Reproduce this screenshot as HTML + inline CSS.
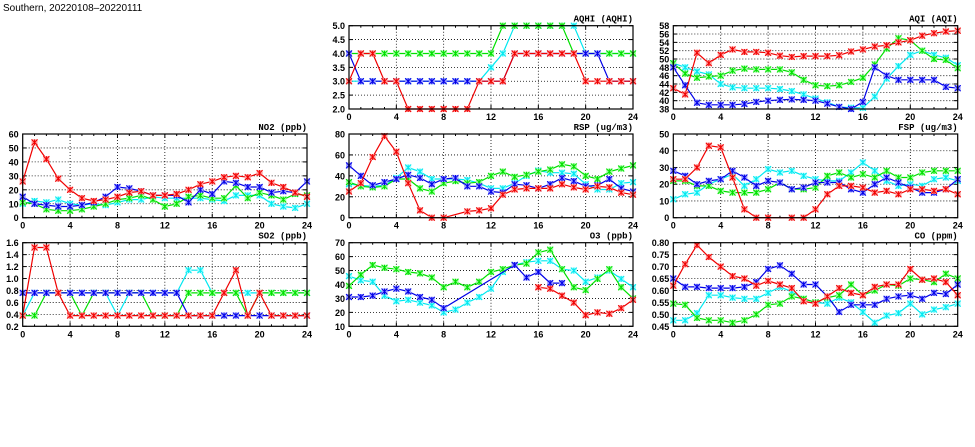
<!DOCTYPE html>
<html><head><meta charset="utf-8">
<style>
body{margin:0;background:#fff;}
svg{display:block;font-family:"Liberation Sans",sans-serif;}
</style></head><body>
<svg id="s" width="975" height="447" xmlns="http://www.w3.org/2000/svg"></svg>
<script>
const N=null;
const panels=[
{t:"AQHI (AQHI)",x0:349,x1:633,y0:25.7,y1:109,min:2,max:5,step:0.5,dec:1,
 s:{c:[3,3,3,3,3,3,3,3,3,3,3,3,3.5,4,5,5,5,5,5,5,4,4,4,4,4],
    g:[4,4,4,4,4,4,4,4,4,4,4,4,4,5,5,5,5,5,5,4,4,4,4,4,4],
    b:[4,3,3,3,3,3,3,3,3,3,3,3,3,3,4,4,4,4,4,4,4,4,3,3,3],
    r:[3,4,4,3,3,2,2,2,2,2,2,3,3,3,4,4,4,4,4,4,3,3,3,3,3]}},
{t:"AQI (AQI)",x0:673.3,x1:957.7,y0:25.7,y1:109,min:38,max:58,step:2,dec:0,
 s:{c:[49,48,47,46.3,44,43.2,43,43,43,42.8,42.3,41.5,40.5,39.6,38.5,38.3,38.3,41,45.3,48.3,51,52,51,50.3,48.5],
    g:[49,46.5,45.5,45.8,46,47.2,47.7,47.5,47.5,47.5,46.8,45,43.7,43.5,43.7,44.5,45.5,48.7,52.5,55,54.5,52,50,49.8,47.8],
    b:[48,43.7,39.5,39,39,39,39.2,39.7,40,40.2,40.3,40.2,40,39.3,38.5,38,39.7,48,46,45,45,45,45,43.3,43],
    r:[43,41.5,51.5,49,51,52.3,51.7,51.7,51.5,50.8,50.5,50.7,50.7,50.7,50.9,51.8,52.3,53,53.3,54,54.5,55.6,56.2,56.6,56.8]}},
{t:"NO2 (ppb)",x0:22.7,x1:307,y0:134,y1:217.7,min:0,max:60,step:10,dec:0,
 s:{c:[10,12,11,13,10,9,10,9,11,13,13,15,14,14,14,14,13,12,16,16,16,10,8,7,10],
    g:[11,10,6,5,5,6,8,10,13,14,16,13,8,10,15,16,14,14,23,14,18,16,13,17,16],
    b:[15,10,9,8,8,9,11,15,22,21,19,16,16,16,11,20,17,26,25,22,22,18,19,18,26],
    r:[26,54,42,28,20,14,12,13,15,18,19,16,16,17,20,24,26,29,30,29,32,25,22,18,15]}},
{t:"RSP (ug/m3)",x0:349,x1:633,y0:134,y1:217.7,min:0,max:80,step:20,dec:0,
 s:{c:[32,31,30,31,38,48,44,37,37,37,36,33,28,28,33,40,45,43,43,42,32,27,27,33,34],
    g:[34,30,29,30,37,37,28,25,33,35,33,34,40,44,39,41,44,46,51,49,40,37,44,47,50],
    b:[50,40,31,34,37,41,38,32,37,38,30,30,25,24,32,31,28,32,38,35,30,31,37,28,25],
    r:[25,33,58,78,63,33,7,0,0,N,6,7,9,22,27,28,28,28,32,29,27,30,29,24,22]},bridgeR:true},
{t:"FSP (ug/m3)",x0:673.3,x1:957.7,y0:134,y1:217.7,min:0,max:50,step:10,dec:0,
 s:{c:[11,14,15,20,23,26,19,23,29,27,28,25,23,22,22,27,33,28,22,19,20,19,23,24,22],
    g:[22,22,19,19,16,15,15,15,17,21,17,17,18,25,27,24,26,24,28,24,24,27,28,28,28],
    b:[28,25,20,22,23,28,24,19,22,21,17,18,21,21,21,17,15,20,24,21,18,15,15,17,23],
    r:[23,23,30,43,42,24,5,0,0,N,0,0,5,14,19,19,18,15,16,14,17,17,16,17,14]},bridgeR:true},
{t:"SO2 (ppb)",x0:22.7,x1:307,y0:242.7,y1:326.3,min:0.2,max:1.6,step:0.2,dec:1,
 s:{c:[.38,.76,.76,.76,.76,.76,.76,.76,.38,.76,.76,.76,.76,.76,1.14,1.14,.76,.76,.76,.76,.76,.76,.76,.76,.76],
    g:[.38,.38,.76,.76,.76,.38,.76,.76,.76,.76,.76,.38,.38,.38,.76,.76,.76,.76,.76,.38,.76,.76,.76,.76,.76],
    b:[.76,.76,.76,.76,.76,.76,.76,.76,.76,.76,.76,.76,.76,.76,.38,.38,.38,.38,.38,.38,.38,.38,.38,.38,.38],
    r:[.38,1.52,1.52,.76,.38,.38,.38,.38,.38,.38,.38,.38,.38,.38,.38,.38,.38,.76,1.14,.38,.76,.38,.38,.38,.38]}},
{t:"O3 (ppb)",x0:349,x1:633,y0:242.7,y1:326.3,min:10,max:70,step:10,dec:0,
 s:{c:[46,43,42,32,28,29,27,25,20,22,27,31,37,49,54,56,57,57,51,50,42,45,50,44,38],
    g:[39,47,54,52,51,49,48,45,38,42,38,42,49,51,54,55,63,65,51,38,36,44,51,38,30],
    b:[31,31,32,35,37,35,31,29,23,N,N,N,N,N,54,45,49,41,41,N,N,N,N,N,N],
    r:[N,N,N,N,N,N,N,N,N,N,N,N,N,N,N,N,38,37,32,27,18,20,19,23,29]},bridge:true},
{t:"CO (ppm)",x0:673.3,x1:957.7,y0:242.7,y1:326.3,min:0.45,max:0.80,step:0.05,dec:2,
 s:{c:[.475,.475,.505,.58,.58,.57,.565,.565,.59,.615,.595,.565,.55,.545,.57,.55,.51,.465,.495,.505,.545,.50,.52,.53,.545],
    g:[.545,.54,.485,.475,.475,.465,.475,.50,.54,.545,.575,.565,.55,.57,.58,.625,.58,.60,.625,.62,.65,.645,.635,.67,.65],
    b:[.65,.615,.615,.61,.61,.61,.615,.635,.69,.705,.67,.625,.625,.575,.51,.54,.54,.54,.565,.575,.58,.565,.59,.585,.625],
    r:[.62,.71,.79,.74,.70,.66,.65,.62,.64,.625,.61,.555,.545,.575,.61,.59,.58,.615,.625,.625,.69,.645,.65,.635,.58]}}
];
const col={c:"#00e8f0",g:"#00e000",b:"#0000e8",r:"#f00000"};
const fill={c:"#a0ffff",g:"#a0ffa0",b:"#a0a0ff",r:"#ffa0a0"};
let h='<text x="3" y="11" font-size="10">Southern, 20220108–20220111</text>';
for(const p of panels){
  const W=p.x1-p.x0,H=p.y1-p.y0;
  const X=i=>p.x0+i/24*W, Y=v=>p.y1-(v-p.min)/(p.max-p.min)*H;
  for(let i=4;i<24;i+=4)h+=`<line x1="${X(i)}" y1="${p.y0}" x2="${X(i)}" y2="${p.y1}" stroke="#000" stroke-width="0.8" stroke-dasharray="1,2"/>`;
  const n=Math.round((p.max-p.min)/p.step);
  for(let k=0;k<=n;k++){const v=p.min+k*p.step,y=Y(v);
    if(k>0&&k<n)h+=`<line x1="${p.x0}" y1="${y}" x2="${p.x1}" y2="${y}" stroke="#000" stroke-width="0.8" stroke-dasharray="1,2"/>`;
    h+=`<line x1="${p.x0}" y1="${y}" x2="${p.x0+4}" y2="${y}" stroke="#000"/><line x1="${p.x1-4}" y1="${y}" x2="${p.x1}" y2="${y}" stroke="#000"/>`;
    h+=`<text x="${p.x0-4}" y="${y+3.5}" font-size="9" font-weight="bold" text-anchor="end">${v.toFixed(p.dec)}</text>`;}
  for(let i=0;i<=24;i+=4){h+=`<text x="${X(i)}" y="${p.y1+11}" font-size="9" font-weight="bold" text-anchor="middle">${i}</text>`;}
  for(let i=1;i<24;i++){const l=i%4==0?4:2;h+=`<line x1="${X(i)}" y1="${p.y1}" x2="${X(i)}" y2="${p.y1-l}" stroke="#000"/><line x1="${X(i)}" y1="${p.y0}" x2="${X(i)}" y2="${p.y0+l}" stroke="#000"/>`;}
  for(const k of ["c","g","b","r"]){const d=p.s[k];let pts=[],segs=[];
    const br=(p.bridge&&k=="b")||(p.bridgeR&&k=="r");
    d.forEach((v,i)=>{if(v===N){if(!br){if(pts.length)segs.push(pts);pts=[];}}else pts.push([X(i),Y(v)]);});
    if(pts.length)segs.push(pts);
    for(const s of segs)h+=`<polyline points="${s.map(q=>q[0].toFixed(1)+','+q[1].toFixed(1)).join(' ')}" fill="none" stroke="${col[k]}" stroke-width="1.2"/>`;
    d.forEach((v,i)=>{if(v===N)return;const x=X(i),y=Y(v);
      if(y<p.y0-0.5||y>p.y1+0.5)return;
      h+=`<rect x="${x-3}" y="${y-3}" width="6" height="6" fill="${fill[k]}"/><path d="M${x-3} ${y-3}L${x+3} ${y+3}M${x-3} ${y+3}L${x+3} ${y-3}M${x} ${y-3}V${y+3}" stroke="${col[k]}" stroke-width="1"/>`;});
  }
  h+=`<rect x="${p.x0}" y="${p.y0}" width="${W}" height="${H}" fill="none" stroke="#000" stroke-width="1.2"/>`;
  h+=`<text x="${p.x1}" y="${p.y0-4}" font-size="9" font-weight="bold" text-anchor="end" font-family="Liberation Mono,monospace">${p.t}</text>`;
}
document.getElementById('s').innerHTML=h;
</script>
</body></html>
